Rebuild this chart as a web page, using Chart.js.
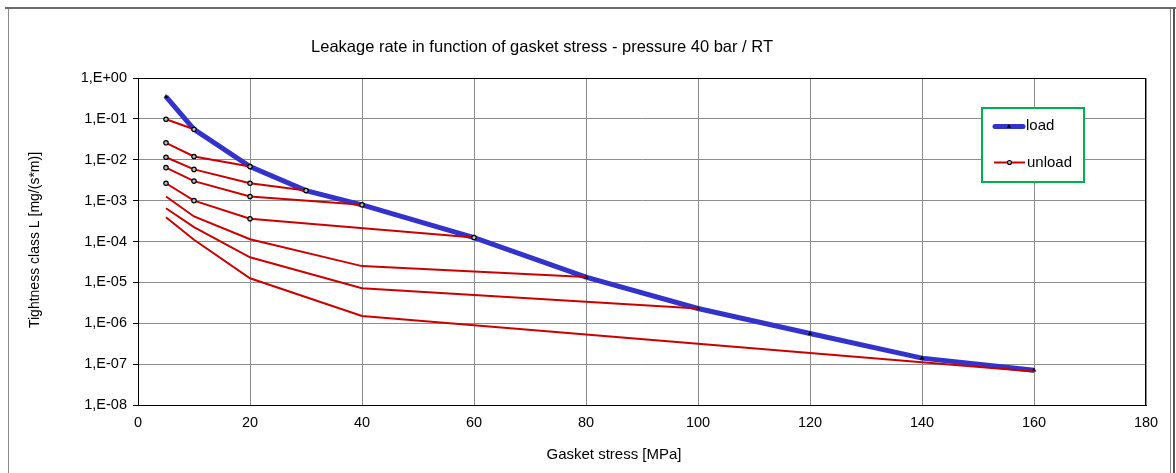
<!DOCTYPE html>
<html>
<head>
<meta charset="utf-8">
<script src="https://cdn.jsdelivr.net/npm/chart.js@4.4.1/dist/chart.umd.min.js"></script>
<style>
  html, body { margin: 0; padding: 0; background: #fff; }
  #wrap { width: 1176px; height: 473px; position: relative; }
</style>
</head>
<body>
<div id="wrap"><canvas id="c"></canvas></div>
<script>
// ---- data ----
const titleText = 'Leakage rate in function of gasket stress - pressure 40 bar / RT';
const xTitle = 'Gasket stress [MPa]';
const yTitle = 'Tightness class L [mg/(s*m)]';
const xTicks = [0, 20, 40, 60, 80, 100, 120, 140, 160, 180];
const yTicks = [1, 1e-1, 1e-2, 1e-3, 1e-4, 1e-5, 1e-6, 1e-7, 1e-8];

const loadStress = [5, 10, 20, 30, 40, 60, 80, 100, 120, 140, 160];
const loadLeak   = [0.35, 0.0556, 0.0068, 0.00176, 0.00079, 0.000125, 1.35e-5, 2.3e-6, 5.6e-7, 1.4e-7, 7.1e-8];

const unload1Stress = [5, 10];
const unload1Leak   = [0.098, 0.0556];
const unload2Stress = [5, 10, 20];
const unload2Leak   = [0.026, 0.012, 0.0068];
const unload3Stress = [5, 10, 20, 30];
const unload3Leak   = [0.0115, 0.0058, 0.00266, 0.00176];
const unload4Stress = [5, 10, 20, 40];
const unload4Leak   = [0.0064, 0.0030, 0.00126, 0.00079];
const unload5Stress = [5, 10, 20, 60];
const unload5Leak   = [0.00266, 0.0010, 0.00036, 0.000125];
const unload6Stress = [5, 10, 20, 40, 80];
const unload6Leak   = [1.26e-3, 4.1e-4, 1.14e-4, 2.5e-5, 1.35e-5];
const unload7Stress = [5, 10, 20, 40, 100];
const unload7Leak   = [6.5e-4, 2.24e-4, 4.1e-5, 7.2e-6, 2.3e-6];
const unload8Stress = [5, 10, 20, 40, 160];
const unload8Leak   = [3.9e-4, 1.1e-4, 1.26e-5, 1.5e-6, 6.6e-8];

const legendLabels = ['load', 'unload'];

// ---- build ----
const FONT = "'Liberation Sans', Arial, sans-serif";
const BLUE = '#3333CC';
const RED = '#CC0000';
const pts = (xs, ys) => xs.map((x, i) => ({ x: x, y: ys[i] }));

function unloadSet(xs, ys, markers) {
  return {
    label: 'unload', data: pts(xs, ys), showLine: true, tension: 0,
    borderColor: RED, borderWidth: 2, order: 1,
    pointStyle: 'circle', pointRadius: markers ? 2.2 : 0, pointHoverRadius: 0,
    pointBackgroundColor: '#bbbbbb', pointBorderColor: '#000', pointBorderWidth: 1.2
  };
}

const datasets = [
  {
    label: 'load', data: pts(loadStress, loadLeak), showLine: true, tension: 0,
    borderColor: BLUE, borderWidth: 5, order: 2,
    pointStyle: 'triangle', pointRadius: 2.2, pointHoverRadius: 0,
    pointBackgroundColor: '#000', pointBorderColor: '#000', pointBorderWidth: 0.5
  },
  unloadSet(unload1Stress, unload1Leak, true),
  unloadSet(unload2Stress, unload2Leak, true),
  unloadSet(unload3Stress, unload3Leak, true),
  unloadSet(unload4Stress, unload4Leak, true),
  unloadSet(unload5Stress, unload5Leak, true),
  unloadSet(unload6Stress, unload6Leak, false),
  unloadSet(unload7Stress, unload7Leak, false),
  unloadSet(unload8Stress, unload8Leak, false)
];

function fmtExp(v) {
  const e = Math.round(Math.log10(v));
  const s = e < 0 ? '-' : '+';
  const a = Math.abs(e);
  return '1,E' + s + (a < 10 ? '0' + a : '' + a);
}

const decor = {
  id: 'decor',
  beforeDraw(chart) {
    const ctx = chart.ctx;
    ctx.save();
    ctx.fillStyle = '#fff';
    ctx.fillRect(0, 0, chart.width, chart.height);
    // outer frame
    ctx.fillStyle = '#6b6b6b';
    ctx.fillRect(5, 7, 1171, 2);
    ctx.strokeStyle = '#8a8a8a';
    ctx.lineWidth = 1;
    ctx.beginPath();
    ctx.moveTo(8.5, 9); ctx.lineTo(8.5, 473);
    ctx.moveTo(1170.5, 9); ctx.lineTo(1170.5, 473);
    ctx.stroke();
    ctx.fillStyle = '#555';
    ctx.fillRect(1173, 9, 2, 464);
    ctx.restore();
  },
  afterDraw(chart) {
    const ctx = chart.ctx;
    const a = chart.chartArea;
    ctx.save();
    // plot border
    ctx.strokeStyle = '#000';
    ctx.lineWidth = 1;
    ctx.strokeRect(Math.round(a.left) + 0.5, Math.round(a.top) + 0.5,
                   Math.round(a.right - a.left) - 1, Math.round(a.bottom - a.top));
    // title
    ctx.fillStyle = '#000';
    ctx.font = '16.5px ' + FONT;
    ctx.textAlign = 'center';
    ctx.textBaseline = 'middle';
    ctx.fillText(titleText, 542, 47);
    // axis titles
    ctx.font = '15px ' + FONT;
    ctx.fillText(xTitle, 614, 455);
    ctx.save();
    ctx.translate(35, 240);
    ctx.rotate(-Math.PI / 2);
    ctx.font = '14px ' + FONT;
    ctx.fillText(yTitle, 0, 0);
    ctx.restore();
    // legend
    const bx = 982, by = 108, bw = 102, bh = 74;
    ctx.fillStyle = '#fff';
    ctx.fillRect(bx, by, bw, bh);
    ctx.strokeStyle = '#00B050';
    ctx.lineWidth = 2;
    ctx.strokeRect(bx, by, bw, bh);
    // load entry
    ctx.strokeStyle = BLUE; ctx.lineWidth = 5; ctx.lineCap = 'round';
    ctx.beginPath(); ctx.moveTo(995, 126.5); ctx.lineTo(1023, 126.5); ctx.stroke();
    ctx.lineCap = 'butt';
    ctx.fillStyle = '#000';
    ctx.beginPath(); ctx.moveTo(1009, 124); ctx.lineTo(1011.2, 128); ctx.lineTo(1006.8, 128); ctx.closePath(); ctx.fill();
    // unload entry
    ctx.strokeStyle = RED; ctx.lineWidth = 2;
    ctx.beginPath(); ctx.moveTo(994, 162.5); ctx.lineTo(1025, 162.5); ctx.stroke();
    ctx.fillStyle = '#bbbbbb'; ctx.strokeStyle = '#000'; ctx.lineWidth = 1.2;
    ctx.beginPath(); ctx.arc(1009.5, 162.5, 2, 0, Math.PI * 2); ctx.fill(); ctx.stroke();
    ctx.fillStyle = '#000';
    ctx.font = '15px ' + FONT;
    ctx.textAlign = 'left';
    ctx.fillText(legendLabels[0], 1026, 126);
    ctx.fillText(legendLabels[1], 1027, 163);
    ctx.restore();
  }
};

new Chart(document.getElementById('c'), {
  type: 'scatter',
  data: { datasets: datasets },
  options: {
    responsive: true,
    maintainAspectRatio: false,
    animation: false,
    events: [],
    layout: { padding: { left: 8, top: 78, right: 30, bottom: 0 } },
    plugins: { legend: { display: false }, title: { display: false }, tooltip: { enabled: false } },
    scales: {
      x: {
        type: 'linear', min: 0, max: 180,
        afterBuildTicks: s => { s.ticks = xTicks.map(v => ({ value: v })); },
        afterFit: s => { s.height = 68; },
        grid: { color: '#8c8c8c', lineWidth: 1, drawTicks: false },
        border: { display: true, color: '#000' },
        ticks: { color: '#000', font: { family: FONT, size: 14.5 }, padding: 9, maxRotation: 0 }
      },
      y: {
        type: 'logarithmic', min: 1e-8, max: 1,
        afterBuildTicks: s => { s.ticks = yTicks.map(v => ({ value: v })); },
        afterFit: s => { s.width = 130; },
        grid: { color: '#8c8c8c', lineWidth: 1, drawTicks: true, tickLength: 5, tickColor: '#000' },
        border: { display: true, color: '#000' },
        ticks: { color: '#000', font: { family: FONT, size: 14.5 }, padding: 6, callback: v => fmtExp(v) }
      }
    }
  },
  plugins: [decor]
});
</script>
</body>
</html>
